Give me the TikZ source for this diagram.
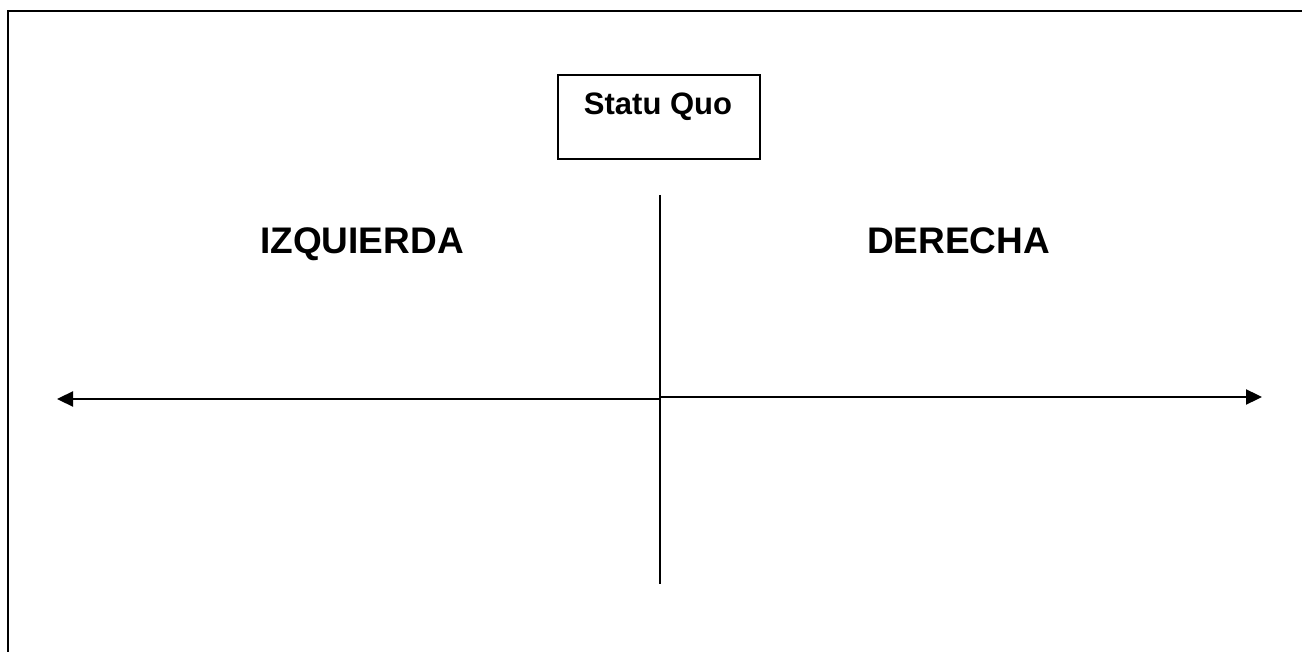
\documentclass[tikz,border=0pt]{standalone}
\usepackage{fontspec}
\setmainfont{Liberation Sans}
\usetikzlibrary{arrows.meta}
\begin{document}
\begin{tikzpicture}[x=1pt,y=-1pt,
  line/.style={line width=2.3pt,black},
  arr/.style={line, -{Triangle[length=16pt,width=15pt]}},
  lbl/.style={font=\bfseries\fontsize{37}{42}\selectfont, inner sep=0pt, anchor=base},
  boxlbl/.style={font=\bfseries\fontsize{31}{36}\selectfont, inner sep=0pt, anchor=base}]
\useasboundingbox (0,0) rectangle (1302,652);
% outer frame (continues beyond the page)
\draw[line] (8,700) -- (8,11) -- (1350,11);
% Statu Quo box
\node[draw, line width=2.3pt, minimum width=202pt, minimum height=84pt, inner sep=0pt] (box) at (659,117) {};
\node[boxlbl] (sq) at (658,115) {Statu Quo};
% labels
\node[lbl] (izq) at (362,254) {IZQUIERDA};
\node[lbl] (der) at (958.5,254) {DERECHA};
% axes
\coordinate (vtop) at (660,195);
\coordinate (vbot) at (660,584);
\coordinate (cl) at (661,399);
\coordinate (cr) at (661,397);
\coordinate (lt) at (57,399);
\coordinate (rt) at (1262,397);
\draw[line] (vtop) -- (vbot);
\draw[arr] (cl) -- (lt);
\draw[arr] (cr) -- (rt);
\end{tikzpicture}
\end{document}
